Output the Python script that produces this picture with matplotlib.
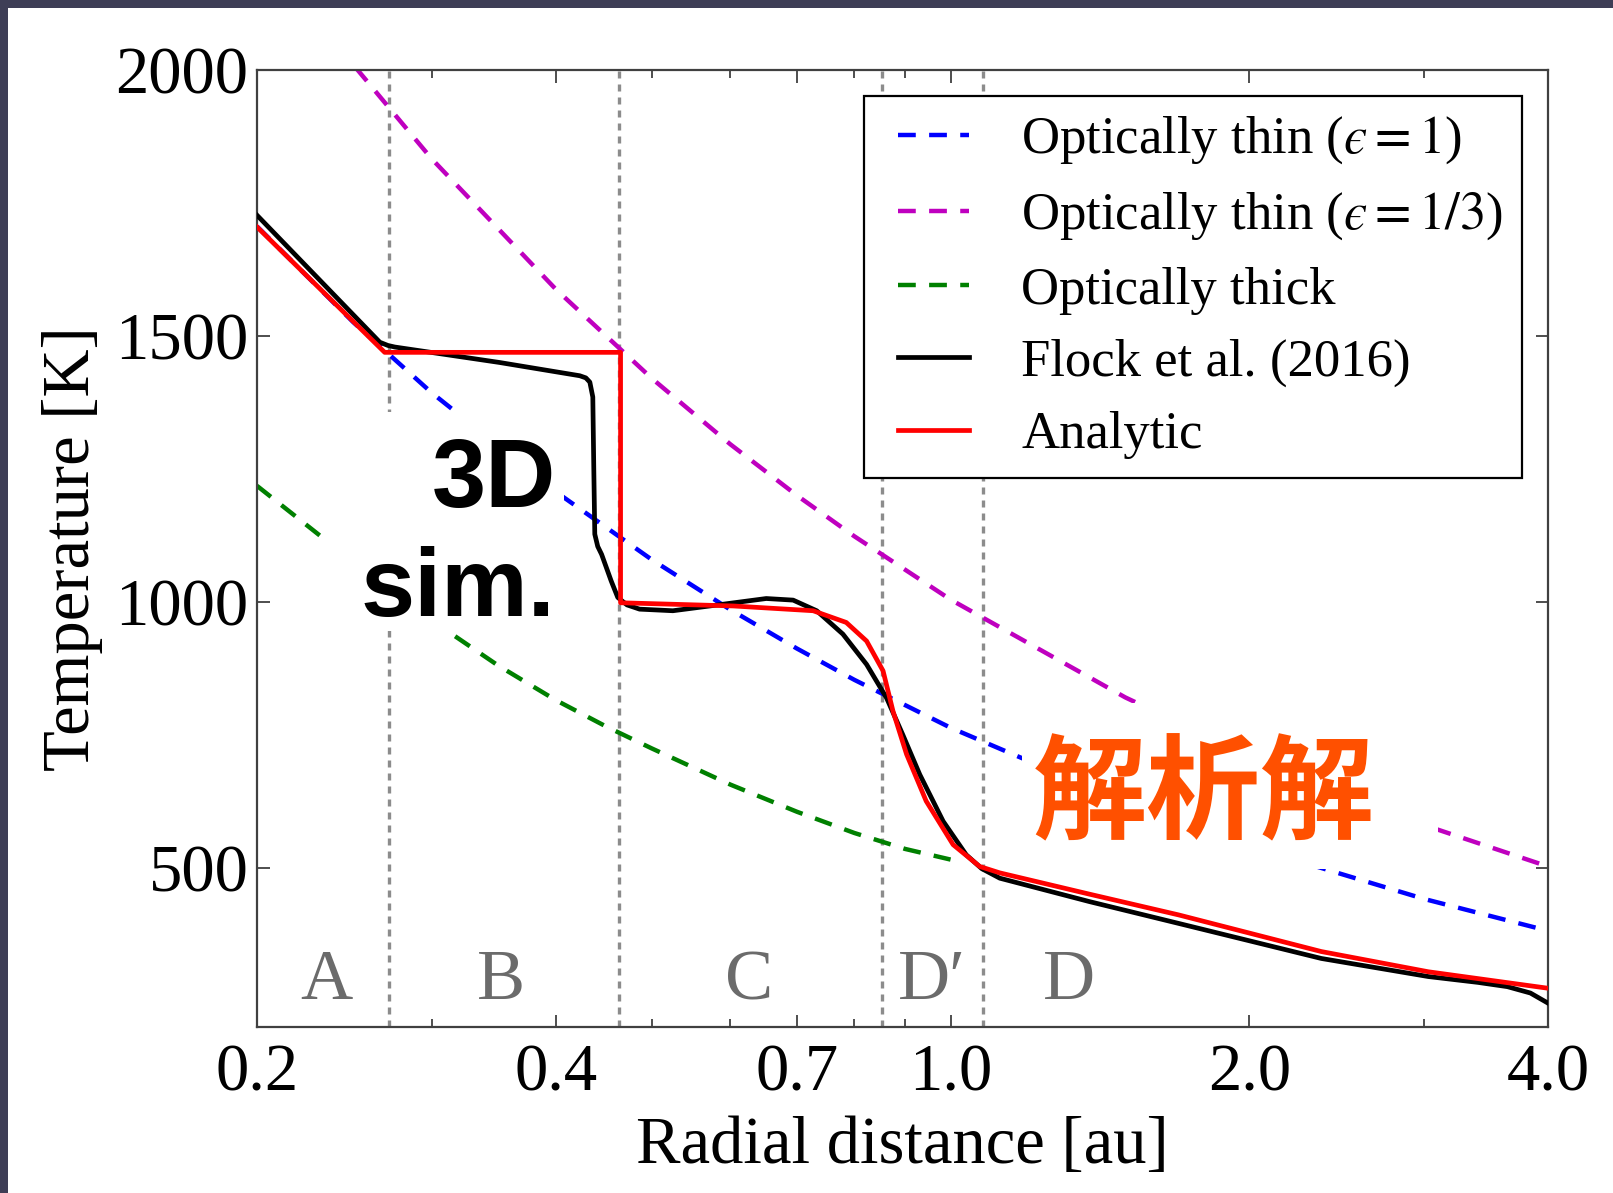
import matplotlib
matplotlib.use("Agg")
import matplotlib.pyplot as plt
from matplotlib.lines import Line2D
from matplotlib.legend_handler import HandlerLine2D
from matplotlib.patches import Rectangle
from matplotlib.ticker import FixedLocator, FixedFormatter, NullFormatter

# optically thin, epsilon = 1
thin1_r = [0.2, 0.25, 0.3, 0.4, 0.5, 0.6, 0.7, 0.8, 1.0, 1.5, 2.0, 3.0, 4.0]
thin1_T = [1706, 1526, 1393, 1207, 1079, 985, 912, 853, 763, 623, 540, 441, 381]

# optically thin, epsilon = 1/3
thin3_r = [0.24, 0.3, 0.4, 0.5, 0.6, 0.7, 0.8, 1.0, 1.5, 2.0, 3.0, 4.0]
thin3_T = [2050, 1833, 1588, 1420, 1296, 1200, 1123, 1004, 820, 710, 580, 502]

# optically thick
thick_r = [0.2, 0.25, 0.3, 0.35, 0.4, 0.45, 0.5, 0.6, 0.7, 0.8, 0.9, 1.0]
thick_T = [1218, 1075, 965, 880, 815, 765, 724, 656, 605, 565, 535, 515]

# Flock et al. (2016) 3D simulation
flock_r = [0.2, 0.266, 0.271, 0.2754, 0.351, 0.423, 0.429, 0.433, 0.436, 0.437,
           0.438, 0.441, 0.445, 0.455, 0.462, 0.472, 0.486, 0.525, 0.572, 0.652,
           0.694, 0.733, 0.779, 0.823, 0.862, 0.895, 0.931, 0.983, 1.037, 1.075,
           1.121, 1.38, 1.697, 2.364, 3.03, 3.4, 3.64, 3.84, 4.0]
flock_T = [1727, 1488, 1482, 1479, 1450, 1425, 1421, 1413, 1385, 1250,
           1127, 1104, 1089, 1039, 1008, 994, 986, 983, 992, 1006,
           1003, 983, 939, 882, 819, 750, 675, 587, 524, 498,
           480, 436, 395, 329, 295, 284, 276, 264, 245]

# analytic model
model_r = [0.2, 0.269, 0.465, 0.465, 0.604, 0.727, 0.785, 0.823, 0.855, 0.875,
           0.903, 0.945, 1.006, 1.070, 1.121, 1.38, 1.697, 2.364, 3.03, 4.0]
model_T = [1705, 1469, 1469, 998, 992, 983, 961, 926, 870, 794,
           713, 625, 543, 502, 490, 450, 411, 342, 304, 273]

# region boundaries and names
edges = [0.272, 0.463, 0.852, 1.079]
regions = ["A", "B", "C", "D\u2032", "D"]
region_r = [0.235, 0.352, 0.626, 0.958, 1.317]

xmajor = [0.2, 0.4, 0.7, 1.0, 2.0, 4.0]
xlabels = ["0.2", "0.4", "0.7", "1.0", "2.0", "4.0"]
xminor = [0.3, 0.5, 0.6, 0.8, 0.9, 3.0]
yticks = [500, 1000, 1500, 2000]

plt.rcParams["font.family"] = ["Liberation Serif", "DejaVu Serif"]
plt.rcParams["mathtext.fontset"] = "stix"

fig = plt.figure(figsize=(16.13, 11.93), dpi=100, facecolor="#3e3e56")
fig.patches.append(Rectangle((0.005, 0), 0.995, 0.9937, transform=fig.transFigure,
                             facecolor="white", edgecolor="none", zorder=-1))
ax = fig.add_axes([0.1593, 0.1391, 0.8004, 0.8022])

for r in edges:
    ax.axvline(r, color="0.55", ls=(0, (2.1, 1.8)), lw=2.4, zorder=1)

dash = (0, (4, 3))
ax.plot(thin1_r, thin1_T, color="b", ls=dash, lw=3.2, zorder=2,
        label="Optically thin ($\u03f5=1$)")
ax.plot(thin3_r, thin3_T, color="m", ls=dash, lw=3.2, zorder=2,
        label="Optically thin ($\u03f5=1/3$)")
ax.plot(thick_r, thick_T, color="g", ls=dash, lw=3.2, zorder=2,
        label="Optically thick")
ax.plot(flock_r, flock_T, color="k", lw=3.4, zorder=3, label="Flock et al. (2016)")
ax.plot(model_r, model_T, color="r", lw=3.4, zorder=4, label="Analytic")

for name, r in zip(regions, region_r):
    ax.text(r, 252, name, fontsize=52, color="0.42", ha="center", va="baseline")

ax.set_xscale("log")
ax.set_xlim(0.2, 4.0)
ax.set_ylim(200, 2000)
ax.xaxis.set_major_locator(FixedLocator(xmajor))
ax.xaxis.set_major_formatter(FixedFormatter(xlabels))
ax.xaxis.set_minor_locator(FixedLocator(xminor))
ax.xaxis.set_minor_formatter(NullFormatter())
ax.set_yticks(yticks)

for s in ax.spines.values():
    s.set_color("0.25")
    s.set_linewidth(1.6)
ax.tick_params(which="both", direction="in", top=True, right=True,
               color="0.25", width=1.3)
ax.tick_params(which="major", length=9, labelsize=48)
ax.tick_params(axis="x", which="major", pad=12)
ax.tick_params(axis="y", which="major", pad=6)
ax.tick_params(which="minor", length=6)

ax.set_xlabel("Radial distance [au]", fontsize=48, labelpad=8)
ax.set_ylabel("Temperature [K]", fontsize=48, labelpad=9)

leg = ax.legend(loc="upper right", bbox_to_anchor=(0.98, 0.973), borderaxespad=0,
                fontsize=38, fancybox=False, edgecolor="black", framealpha=1,
                handlelength=1.63, handletextpad=1.0, labelspacing=0.46,
                borderpad=0.36, handler_map={Line2D: HandlerLine2D(xpad=0.3)})
leg.get_frame().set_linewidth(1.6)

# white cards behind the two annotations
ax.add_patch(Rectangle((0.2336, 945), 0.4076 - 0.2336, 1357 - 945,
                       facecolor="white", edgecolor="none", zorder=10))
ax.add_patch(Rectangle((1.18, 498), 3.1 - 1.18, 810 - 498,
                       facecolor="white", edgecolor="none", zorder=10))

sans = ["Liberation Sans", "DejaVu Sans"]
ax.text(0.4, 1178, "3D", ha="right", va="baseline", fontsize=70,
        fontweight="bold", family=sans, zorder=11)
ax.text(0.4, 973, "sim.", ha="right", va="baseline", fontsize=70,
        fontweight="bold", family=sans, zorder=11)
ax.text(1.80, 632, "解析解", ha="center", va="center", fontsize=82,
        fontweight="bold", color="#ff5000",
        family=["Noto Sans CJK JP", "DejaVu Sans"], zorder=11)

fig.savefig("out.png", dpi=100, facecolor=fig.get_facecolor())
